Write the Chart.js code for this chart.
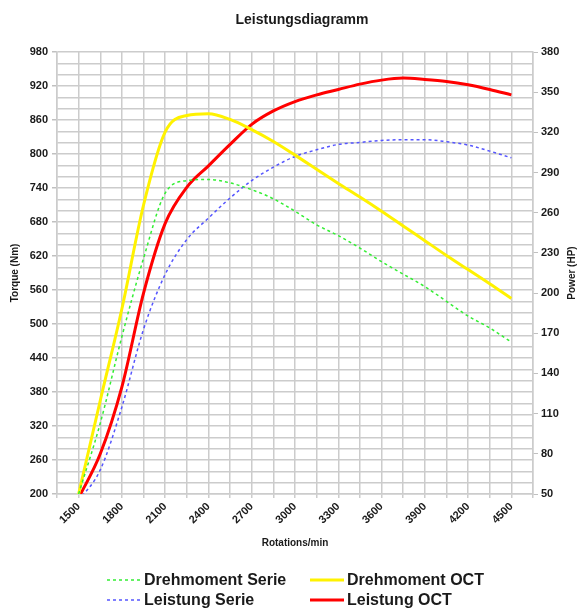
<!DOCTYPE html>
<html>
<head>
<meta charset="utf-8">
<script src="https://cdn.jsdelivr.net/npm/chart.js@4.4.0/dist/chart.umd.min.js"></script>
<style>
html, body { margin: 0; padding: 0; background: #fff; }
#caixa { width: 579px; height: 608px; }
</style>
</head>
<body>
<div id="caixa"><canvas id="grafico"></canvas></div>
<script>
// rpm steps (one point per grid line)
const rotacoes = [1500, 1650, 1800, 1950, 2100, 2250, 2400, 2550, 2700, 2850, 3000, 3150, 3300, 3450, 3600, 3750, 3900, 4050, 4200, 4350, 4500];

// torque, Nm (left axis)
const drehmomentSerie = [200, 325, 478, 616, 731, 753, 755, 749, 737, 721, 699, 675, 656, 634, 610, 588, 566, 540, 514, 493, 468];
const drehmomentOCT = [200, 365, 527, 710, 839, 868, 871, 861, 843, 822, 798, 773, 748, 724, 699, 673, 647, 621, 596, 571, 545];

// power, HP (right axis)
const leistungSerie = [45, 68, 115, 173, 214, 240, 256, 271, 284, 294, 302, 307, 311, 312.5, 314, 314.5, 314.5, 313, 310.5, 306, 301];
const leistungOCT = [47, 80, 130, 200, 252, 279, 295, 311, 326, 336, 343, 348, 352, 356, 359, 360.5, 359.5, 358, 355.5, 352, 348];

// tick labels
const rotuloX = [1500, 1800, 2100, 2400, 2700, 3000, 3300, 3600, 3900, 4200, 4500];
const rotuloY = [200, 260, 320, 380, 440, 500, 560, 620, 680, 740, 800, 860, 920, 980];
const rotuloY1 = [50, 80, 110, 140, 170, 200, 230, 260, 290, 320, 350, 380];

const titulo = 'Leistungsdiagramm';
const tituloX = 'Rotations/min';
const tituloY = 'Torque (Nm)';
const tituloY1 = 'Power (HP)';

const fonte = 'Arial, "Liberation Sans", sans-serif';
const cinza = '#cccccc';

Chart.defaults.font.family = fonte;
Chart.defaults.color = '#1a1a1a';

function pontos(valores) {
    return rotacoes.map((r, i) => ({ x: r, y: valores[i] }));
}

// titles + legend in two aligned columns
const textos = {
    id: 'textos',
    afterDraw(chart) {
        const ctx = chart.ctx;
        const area = chart.chartArea;
        const meio = (area.top + area.bottom) / 2;
        ctx.save();
        ctx.fillStyle = '#1a1a1a';
        ctx.textAlign = 'center';
        ctx.textBaseline = 'middle';
        ctx.font = 'bold 14px ' + fonte;
        ctx.fillText(titulo, 302, 20);
        ctx.font = 'bold 10px ' + fonte;
        ctx.fillText(tituloX, (area.left + area.right) / 2, 543);
        ctx.save();
        ctx.translate(15, meio);
        ctx.rotate(-Math.PI / 2);
        ctx.fillText(tituloY, 0, 0);
        ctx.restore();
        ctx.save();
        ctx.translate(572, meio);
        ctx.rotate(-Math.PI / 2);
        ctx.fillText(tituloY1, 0, 0);
        ctx.restore();

        ctx.font = 'bold 16px ' + fonte;
        ctx.textAlign = 'left';
        const colunas = [107, 310];
        const linhas = [580, 600];
        chart.data.datasets.forEach((ds, i) => {
            const x = colunas[i % 2];
            const y = linhas[Math.floor(i / 2)];
            ctx.strokeStyle = ds.borderColor;
            ctx.lineWidth = ds.borderWidth;
            ctx.setLineDash(ds.borderDash || []);
            ctx.beginPath();
            ctx.moveTo(x, y);
            ctx.lineTo(x + 34, y);
            ctx.stroke();
            ctx.setLineDash([]);
            ctx.fillText(ds.label, x + 37, y + 1);
        });
        ctx.restore();
    }
};

let grafico = new Chart(document.getElementById('grafico'), {
    type: 'line',
    data: {
        datasets: [{
                label: 'Drehmoment Serie',
                data: pontos(drehmomentSerie),
                yAxisID: 'y',
                borderColor: '#33ee33',
                borderWidth: 1.5,
                borderDash: [3, 3]
            },
            {
                label: 'Drehmoment OCT',
                data: pontos(drehmomentOCT),
                yAxisID: 'y',
                borderColor: '#fff200',
                borderWidth: 3
            },
            {
                label: 'Leistung Serie',
                data: pontos(leistungSerie),
                yAxisID: 'y1',
                borderColor: '#5555ff',
                borderWidth: 1.5,
                borderDash: [3, 3]
            },
            {
                label: 'Leistung OCT',
                data: pontos(leistungOCT),
                yAxisID: 'y1',
                borderColor: '#ff0000',
                borderWidth: 3
            }
        ]
    },
    options: {
        responsive: true,
        maintainAspectRatio: false,
        animation: false,
        layout: { padding: { top: 52 } },
        elements: {
            point: { radius: 0 },
            line: { cubicInterpolationMode: 'monotone' }
        },
        plugins: {
            legend: { display: false },
            title: { display: false },
            tooltip: { enabled: false }
        },
        scales: {
            x: {
                type: 'linear',
                min: 1350,
                max: 4650,
                afterFit: s => { s.height = 114; },
                ticks: {
                    stepSize: 150,
                    autoSkip: false,
                    maxRotation: 45,
                    minRotation: 45,
                    padding: 2,
                    font: { size: 11, weight: 'bold' },
                    callback: v => rotuloX.includes(v) ? String(v) : ''
                },
                grid: { color: cinza, lineWidth: 1.5, tickLength: 4 },
                border: { color: cinza, width: 1.5 }
            },
            y: {
                position: 'left',
                min: 200,
                max: 980,
                afterFit: s => { s.width = 57; },
                ticks: {
                    stepSize: 20,
                    autoSkip: false,
                    padding: 4,
                    font: { size: 11, weight: 'bold' },
                    callback: v => rotuloY.includes(v) ? String(v) : ''
                },
                grid: {
                    color: cinza,
                    lineWidth: 1.5,
                    tickLength: 5,
                    tickColor: c => (c.tick && rotuloY.includes(c.tick.value)) ? '#c0c0c0' : 'rgba(0,0,0,0)'
                },
                border: { color: cinza, width: 1.5 }
            },
            y1: {
                position: 'right',
                min: 50,
                max: 380,
                afterFit: s => { s.width = 46; },
                ticks: {
                    stepSize: 30,
                    autoSkip: false,
                    padding: 3,
                    font: { size: 11, weight: 'bold' },
                    callback: v => rotuloY1.includes(v) ? String(v) : ''
                },
                grid: { drawOnChartArea: false, tickLength: 5, tickColor: '#c0c0c0' },
                border: { color: cinza, width: 1.5 }
            }
        }
    },
    plugins: [textos]
});
</script>
</body>
</html>
